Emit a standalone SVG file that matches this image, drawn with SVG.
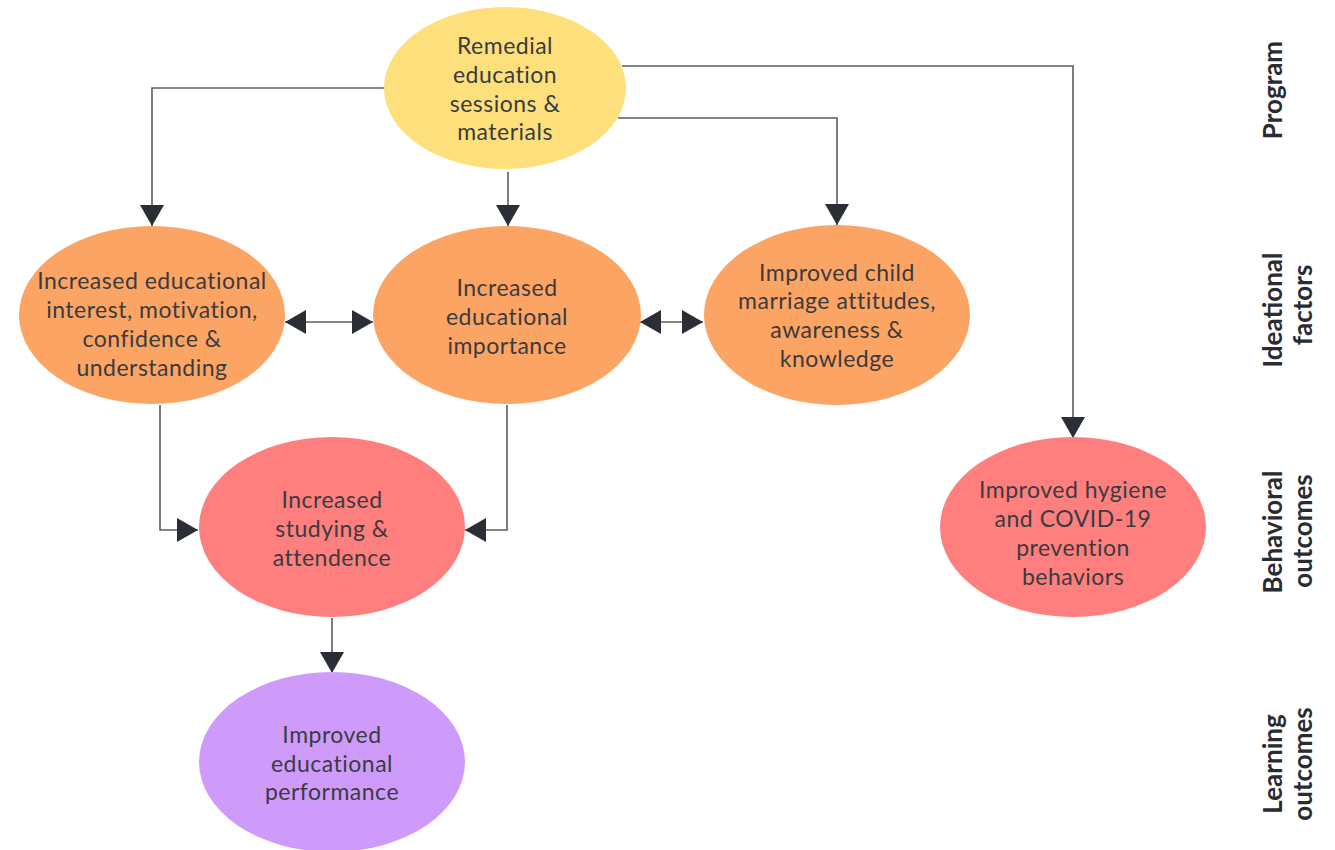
<svg xmlns="http://www.w3.org/2000/svg" width="1335" height="850" viewBox="0 0 1335 850">
<style>
.node text{font-family:Lato,"Open Sans","Liberation Sans",sans-serif;font-size:23px;letter-spacing:0.5px;fill:#3b3b3f;text-anchor:middle}
.lbl{font-family:Lato,"Open Sans","Liberation Sans",sans-serif;font-size:26px;font-weight:bold;fill:#2a2c33;text-anchor:middle}
.conn path{fill:none;stroke:#5a5c60;stroke-width:1.6}
</style>
<defs>
<marker id="ah" markerUnits="userSpaceOnUse" markerWidth="22" markerHeight="24" refX="21" refY="12" orient="auto-start-reverse" viewBox="0 0 22 24">
<path d="M0,0 L21,12 L0,24 Z" fill="#2b2e35"/>
</marker>
</defs>
<rect width="1335" height="850" fill="#ffffff"/>
<g id="connectors" class="conn">
<path d="M384,88 H152 V226" marker-end="url(#ah)"/>
<path d="M508,172 V226" marker-end="url(#ah)"/>
<path d="M618,118 H837 V225" marker-end="url(#ah)"/>
<path d="M622,66 H1073 V438" marker-end="url(#ah)"/>
<path d="M285,322 H373" marker-start="url(#ah)" marker-end="url(#ah)"/>
<path d="M640,322 H703" marker-start="url(#ah)" marker-end="url(#ah)"/>
<path d="M160,405 V530 H198" marker-end="url(#ah)"/>
<path d="M507,405 V530 H465" marker-end="url(#ah)"/>
<path d="M332,618 V673" marker-end="url(#ah)"/>
</g>
<g id="n-remedial" class="node">
<ellipse cx="505" cy="88" rx="121" ry="81" fill="#fde07c"/>
<text x="505" y="54">Remedial</text>
<text x="505" y="83">education</text>
<text x="505" y="112">sessions &amp;</text>
<text x="505" y="140">materials</text>
</g>
<g id="n-interest" class="node">
<ellipse cx="152" cy="315" rx="133" ry="89" fill="#fca464"/>
<text x="152" y="289">Increased educational</text>
<text x="152" y="318">interest, motivation,</text>
<text x="152" y="347">confidence &amp;</text>
<text x="152" y="376">understanding</text>
</g>
<g id="n-importance" class="node">
<ellipse cx="507" cy="315" rx="134" ry="89" fill="#fca464"/>
<text x="507" y="296">Increased</text>
<text x="507" y="325">educational</text>
<text x="507" y="354">importance</text>
</g>
<g id="n-marriage" class="node">
<ellipse cx="837" cy="315" rx="133" ry="90" fill="#fca464"/>
<text x="837" y="281">Improved child</text>
<text x="837" y="309">marriage attitudes,</text>
<text x="837" y="338">awareness &amp;</text>
<text x="837" y="367">knowledge</text>
</g>
<g id="n-studying" class="node">
<ellipse cx="332" cy="527" rx="133" ry="90" fill="#fe7f7e"/>
<text x="332" y="508">Increased</text>
<text x="332" y="537">studying &amp;</text>
<text x="332" y="566">attendence</text>
</g>
<g id="n-hygiene" class="node">
<ellipse cx="1073" cy="527" rx="133" ry="90" fill="#fe7f7e"/>
<text x="1073" y="498">Improved hygiene</text>
<text x="1073" y="527">and COVID-19</text>
<text x="1073" y="556">prevention</text>
<text x="1073" y="585">behaviors</text>
</g>
<g id="n-performance" class="node">
<ellipse cx="332" cy="762" rx="133" ry="90" fill="#cf9bfb"/>
<text x="332" y="743">Improved</text>
<text x="332" y="772">educational</text>
<text x="332" y="800">performance</text>
</g>
<g id="labels">
<text class="lbl" transform="translate(1282,90) rotate(-90)">Program</text>
<text class="lbl" transform="translate(1282,310) rotate(-90)">Ideational</text>
<text class="lbl" transform="translate(1312,305) rotate(-90)">factors</text>
<text class="lbl" transform="translate(1282,532) rotate(-90)">Behavioral</text>
<text class="lbl" transform="translate(1312,531) rotate(-90)">outcomes</text>
<text class="lbl" transform="translate(1282,764) rotate(-90)">Learning</text>
<text class="lbl" transform="translate(1312,764) rotate(-90)">outcomes</text>
</g>
</svg>
